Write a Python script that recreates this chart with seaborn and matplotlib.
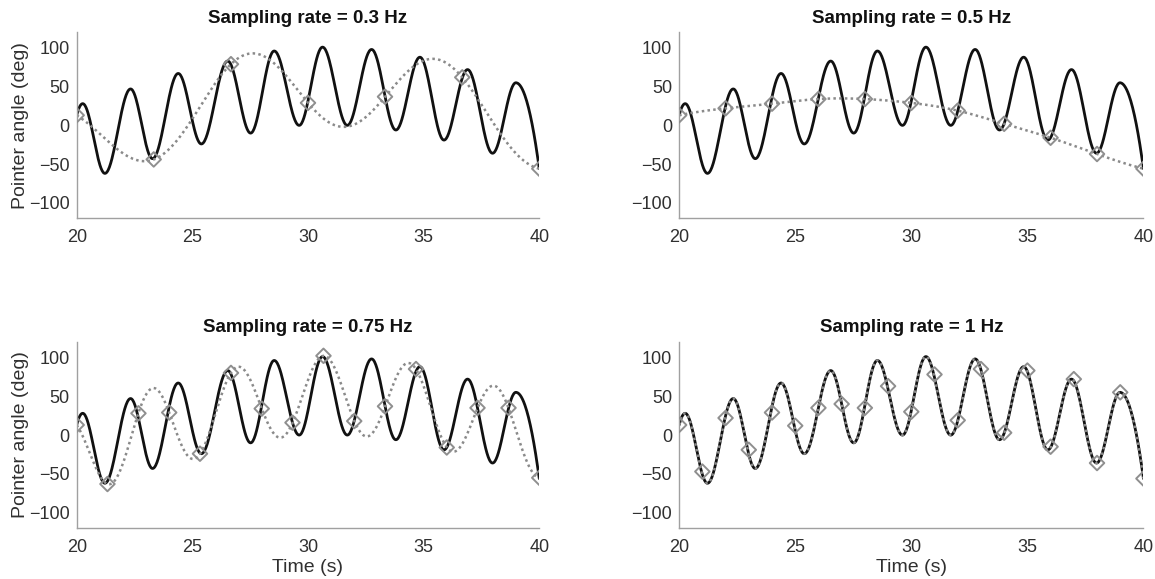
import numpy as np
import matplotlib
matplotlib.use("Agg")
import matplotlib.pyplot as plt
import seaborn as sns

# ---- data ----
# true signal: start value, alternating extrema, end value
sig_t = [20.0, 20.26, 21.22, 22.33, 23.28, 24.39, 25.39, 26.53, 27.52, 28.54, 29.62,
         30.63, 31.70, 32.75, 33.80, 34.84, 35.88, 36.90, 37.98, 38.99, 40.0]
sig_v = [13, 28, -62, 47, -43, 67, -24, 83, -10, 96, 0,
         101, 0, 98, -6, 88, -19, 72, -36, 55, -56]

s03_t = [20.0, 23.33, 26.67, 30.0, 33.33, 36.67, 40.0]
s03_v = [13, -44, 79, 29, 37, 62, -56]

s05_t = [20, 22, 24, 26, 28, 30, 32, 34, 36, 38, 40]
s05_v = [13, 22, 28, 34, 34, 29, 19, 2, -16, -37, -56]

s075_t = [20.0, 21.33, 22.67, 24.0, 25.33, 26.67, 28.0, 29.33, 30.67, 32.0,
          33.33, 34.67, 36.0, 37.33, 38.67, 40.0]
s075_v = [13, -63, 28, 29, -24, 80, 34, 16, 102, 18, 37, 85, -16, 35, 35, -55]

s1_t = list(range(20, 41))
s1_v = [13, -47, 22, -19, 29, 12, 35, 40, 35, 63, 30, 78, 19, 85, 3, 83, -15, 72, -36, 55, -56]

titles = ["Sampling rate = 0.3 Hz", "Sampling rate = 0.5 Hz",
          "Sampling rate = 0.75 Hz", "Sampling rate = 1 Hz"]
x_ticks = [20, 25, 30, 35, 40]
y_ticks = [-100, -50, 0, 50, 100]


def smooth_signal(t, v, n=40):
    """Draw the signal through its extrema with cosine-shaped half cycles."""
    xs, ys = [], []
    last = len(t) - 2
    for i in range(len(t) - 1):
        s = np.linspace(0, 1, n, endpoint=(i == last))
        a, b = v[i], v[i + 1]
        if i == 0:
            w = 1 - (1 - s) ** 2
        elif i == last:
            w = s ** 2
        else:
            w = (1 - np.cos(np.pi * s)) / 2
        xs.append(t[i] + (t[i + 1] - t[i]) * s)
        ys.append(a + (b - a) * w)
    return np.concatenate(xs), np.concatenate(ys)


def sinc_reconstruct(st, sv, xs):
    """Band-limited (Whittaker-Shannon) reconstruction from the samples."""
    st = np.asarray(st, float); sv = np.asarray(sv, float)
    T = (st[-1] - st[0]) / (len(st) - 1)
    return np.sum(sv[None, :] * np.sinc((xs[:, None] - st[None, :]) / T), axis=1)


def spline(x, y, xs):
    """Not-a-knot cubic spline through the samples."""
    x = np.asarray(x, float); y = np.asarray(y, float)
    n = len(x); h = np.diff(x)
    A = np.zeros((n, n)); r = np.zeros(n)
    A[0, 0], A[0, 1], A[0, 2] = h[1], -(h[0] + h[1]), h[0]
    A[-1, -3], A[-1, -2], A[-1, -1] = h[-1], -(h[-2] + h[-1]), h[-2]
    for i in range(1, n - 1):
        A[i, i - 1] = h[i - 1]; A[i, i] = 2 * (h[i - 1] + h[i]); A[i, i + 1] = h[i]
        r[i] = 6 * ((y[i + 1] - y[i]) / h[i] - (y[i] - y[i - 1]) / h[i - 1])
    M = np.linalg.solve(A, r)
    idx = np.clip(np.searchsorted(x, xs) - 1, 0, n - 2)
    x0, x1 = x[idx], x[idx + 1]; hh = x1 - x0
    return (M[idx] * (x1 - xs) ** 3 / (6 * hh) + M[idx + 1] * (xs - x0) ** 3 / (6 * hh)
            + (y[idx] / hh - M[idx] * hh / 6) * (x1 - xs)
            + (y[idx + 1] / hh - M[idx + 1] * hh / 6) * (xs - x0))


sns.set_theme(style="white")
plt.rcParams['font.family'] = ['Liberation Sans', 'DejaVu Sans']

fig = plt.figure(figsize=(11.55, 5.79), dpi=100)
positions = [[0.0664, 0.623, 0.4005, 0.321], [0.588, 0.623, 0.402, 0.321],
             [0.0664, 0.0876, 0.4005, 0.322], [0.588, 0.0876, 0.402, 0.322]]
samples = [(s03_t, s03_v), (s05_t, s05_v), (s075_t, s075_v), (s1_t, s1_v)]

tx, ty = smooth_signal(sig_t, sig_v)
xs_fine = np.linspace(20, 40, 800)

axis_col = '#a0a0a0'
for k, (pos, (st, sv), title) in enumerate(zip(positions, samples, titles)):
    ax = fig.add_axes(pos)
    sns.lineplot(x=tx, y=ty, ax=ax, color='#111111', lw=2.0, sort=False, estimator=None)
    if k == 3:
        # at 1 Hz the reconstruction coincides with the true signal
        rx, ry = tx, ty
    elif k == 1:
        rx, ry = xs_fine, spline(st, sv, xs_fine)
    else:
        rx, ry = xs_fine, sinc_reconstruct(st, sv, xs_fine)
    sns.lineplot(x=rx, y=ry, ax=ax, color='#8a8a8a', lw=1.8, linestyle=(0, (1, 1.3)),
                 sort=False, estimator=None)
    sns.scatterplot(x=st, y=sv, ax=ax, marker='D', s=55, facecolor='none',
                    edgecolor='#8f8f8f', linewidth=1.4, zorder=5)
    ax.set_xlim(20, 40)
    ax.set_ylim(-120, 120)
    ax.set_xticks(x_ticks)
    ax.set_yticks(y_ticks)
    for sp in ['top', 'right']:
        ax.spines[sp].set_visible(False)
    for sp in ['left', 'bottom']:
        ax.spines[sp].set_color(axis_col)
        ax.spines[sp].set_linewidth(1.0)
    ax.tick_params(direction='in', length=4, width=0.8, color=axis_col,
                   labelsize=13, labelcolor='#303030', pad=5)
    ax.tick_params(axis='x', pad=8)
    ax.set_title(title, fontsize=13.5, fontweight='bold', color='#111111', pad=7)
    ax.set_xlabel("Time (s)" if k >= 2 else "", fontsize=14, color='#303030', labelpad=2)
    ax.set_ylabel("Pointer angle (deg)" if k % 2 == 0 else "", fontsize=14,
                  color='#303030', labelpad=0)

fig.savefig("out.png", dpi=100)
